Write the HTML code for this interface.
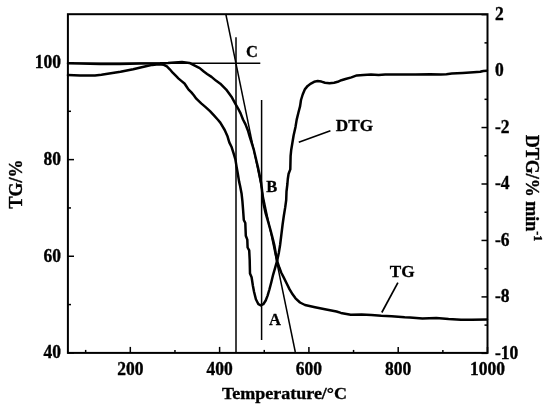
<!DOCTYPE html>
<html><head><meta charset="utf-8"><style>
html,body{margin:0;padding:0;background:#fff;}
body{width:550px;height:408px;overflow:hidden;}
svg{display:block;filter:grayscale(100%);}
</style></head><body>
<svg width="550" height="408" viewBox="0 0 550 408">
<rect width="550" height="408" fill="#fff"/>
<path d="M68.0,63.3 L80.0,63.6 L100.0,64.0 L120.0,64.0 L140.0,63.6 L160.0,63.3 L168.0,63.0 L174.7,62.6 L182.0,62.1 L189.4,62.9 L193.8,65.1 L199.7,68.1 L204.1,71.8 L207.1,74.0 L211.5,76.9 L215.9,80.6 L220.3,83.7 L226.2,89.6 L232.0,97.6 L235.7,104.3 L238.1,108.5 L240.6,113.4 L243.0,119.5 L245.5,124.4 L247.9,130.5 L249.7,136.6 L251.6,142.7 L253.8,149.7 L256.1,159.5 L257.9,167.0 L259.6,175.0 L261.0,182.2 L262.0,190.0 L262.8,199.4 L263.8,205.0 L265.4,212.3 L267.9,220.9 L270.3,229.4 L272.6,238.0 L274.3,245.0 L275.6,252.4 L277.1,260.9 L279.4,267.8 L281.3,272.7 L283.8,277.6 L286.7,283.5 L289.6,289.4 L292.6,294.3 L295.5,298.3 L300.0,302.5 L305.0,305.0 L315.0,307.2 L326.2,309.5 L336.5,311.5 L340.9,312.9 L350.7,314.7 L361.6,314.5 L371.5,315.1 L381.3,315.8 L391.6,316.3 L404.7,317.2 L410.0,317.4 L422.4,318.5 L436.3,317.9 L448.6,319.0 L461.0,319.7 L471.8,319.7 L487.0,319.4" fill="none" stroke="#000" stroke-width="2.5" stroke-linejoin="round" stroke-linecap="round"/>
<path d="M68.0,75.1 L80.0,75.6 L90.0,75.6 L95.0,75.4 L101.4,74.7 L107.7,73.8 L114.1,72.8 L120.5,71.8 L126.8,70.5 L133.2,69.3 L139.5,67.7 L145.9,66.2 L152.3,64.9 L158.6,64.3 L163.9,64.8 L166.9,66.4 L169.8,69.3 L172.7,72.7 L175.7,75.7 L178.6,78.6 L181.6,81.1 L184.5,83.5 L186.5,86.5 L188.4,89.4 L191.4,92.4 L193.8,95.3 L196.3,98.7 L201.2,103.4 L205.6,107.1 L210.0,111.2 L214.4,115.9 L218.1,120.0 L220.3,122.6 L224.7,130.0 L227.6,136.6 L229.3,142.4 L231.7,147.3 L233.6,153.4 L235.4,159.5 L236.6,166.9 L237.9,174.2 L239.1,181.6 L240.1,186.0 L241.6,193.8 L242.4,201.2 L243.1,210.0 L243.8,220.0 L245.3,223.0 L245.8,235.7 L247.3,239.6 L247.6,247.5 L249.2,250.4 L249.7,260.0 L249.8,265.0 L250.0,273.6 L251.6,277.3 L252.9,285.8 L254.1,292.0 L255.9,299.3 L258.4,304.2 L260.8,305.4 L263.3,304.2 L265.7,300.5 L267.6,295.6 L269.4,289.5 L271.3,282.2 L273.1,274.8 L274.9,268.7 L277.1,260.9 L278.9,252.4 L280.1,245.0 L281.4,234.4 L282.6,224.5 L283.8,216.0 L285.2,207.4 L286.2,200.0 L286.5,191.5 L287.4,184.0 L287.8,179.0 L288.6,173.8 L290.3,169.4 L290.6,156.2 L291.2,150.0 L292.4,142.8 L293.6,135.5 L295.5,126.9 L296.7,119.6 L298.5,112.2 L300.1,106.1 L301.0,100.0 L302.7,94.5 L305.0,89.1 L307.7,85.9 L310.9,83.6 L314.1,81.8 L317.7,81.1 L321.4,81.6 L325.0,82.7 L329.5,83.2 L334.1,82.7 L337.7,81.8 L341.4,80.2 L345.5,79.0 L351.4,77.4 L356.8,75.4 L363.4,75.0 L371.0,74.6 L378.6,75.0 L385.2,74.6 L395.0,74.4 L415.5,74.5 L430.0,74.2 L440.9,74.4 L446.4,74.2 L451.8,73.6 L462.7,72.9 L473.6,72.3 L480.2,71.8 L483.4,71.0 L487.0,70.8" fill="none" stroke="#000" stroke-width="2.5" stroke-linejoin="round" stroke-linecap="round"/>
<line x1="68" y1="63.3" x2="260.3" y2="63.3" stroke="#000" stroke-width="1.5" fill="none"/>
<line x1="236" y1="37.2" x2="236" y2="352.9" stroke="#000" stroke-width="1.5" fill="none"/>
<line x1="261.6" y1="100" x2="261.6" y2="340" stroke="#000" stroke-width="1.5" fill="none"/>
<line x1="225.8" y1="14" x2="295.3" y2="352" stroke="#000" stroke-width="1.5" fill="none"/>
<line x1="298.8" y1="142.3" x2="330.4" y2="130.8" stroke="#000" stroke-width="1.7"/>
<line x1="381.8" y1="312.5" x2="397.9" y2="282.7" stroke="#000" stroke-width="1.7"/>
<rect x="67.9" y="14.2" width="419.6" height="338.7" fill="none" stroke="#000" stroke-width="2"/>
<line x1="85.66" y1="352.9" x2="85.66" y2="349.9" stroke="#000" stroke-width="1.5"/>
<line x1="130.31" y1="352.9" x2="130.31" y2="346.9" stroke="#000" stroke-width="1.5"/>
<line x1="174.96" y1="352.9" x2="174.96" y2="349.9" stroke="#000" stroke-width="1.5"/>
<line x1="219.61" y1="352.9" x2="219.61" y2="346.9" stroke="#000" stroke-width="1.5"/>
<line x1="264.26" y1="352.9" x2="264.26" y2="349.9" stroke="#000" stroke-width="1.5"/>
<line x1="308.91" y1="352.9" x2="308.91" y2="346.9" stroke="#000" stroke-width="1.5"/>
<line x1="353.56" y1="352.9" x2="353.56" y2="349.9" stroke="#000" stroke-width="1.5"/>
<line x1="398.21" y1="352.9" x2="398.21" y2="346.9" stroke="#000" stroke-width="1.5"/>
<line x1="442.86" y1="352.9" x2="442.86" y2="349.9" stroke="#000" stroke-width="1.5"/>
<line x1="487.51" y1="352.9" x2="487.51" y2="346.9" stroke="#000" stroke-width="1.5"/>
<line x1="68" y1="352.90" x2="74" y2="352.90" stroke="#000" stroke-width="1.5"/>
<line x1="68" y1="304.58" x2="71" y2="304.58" stroke="#000" stroke-width="1.5"/>
<line x1="68" y1="256.26" x2="74" y2="256.26" stroke="#000" stroke-width="1.5"/>
<line x1="68" y1="207.94" x2="71" y2="207.94" stroke="#000" stroke-width="1.5"/>
<line x1="68" y1="159.62" x2="74" y2="159.62" stroke="#000" stroke-width="1.5"/>
<line x1="68" y1="111.30" x2="71" y2="111.30" stroke="#000" stroke-width="1.5"/>
<line x1="68" y1="62.98" x2="74" y2="62.98" stroke="#000" stroke-width="1.5"/>
<line x1="487.5" y1="353.35" x2="481.5" y2="353.35" stroke="#000" stroke-width="1.5"/>
<line x1="487.5" y1="325.12" x2="484.5" y2="325.12" stroke="#000" stroke-width="1.5"/>
<line x1="487.5" y1="296.90" x2="481.5" y2="296.90" stroke="#000" stroke-width="1.5"/>
<line x1="487.5" y1="268.68" x2="484.5" y2="268.68" stroke="#000" stroke-width="1.5"/>
<line x1="487.5" y1="240.45" x2="481.5" y2="240.45" stroke="#000" stroke-width="1.5"/>
<line x1="487.5" y1="212.22" x2="484.5" y2="212.22" stroke="#000" stroke-width="1.5"/>
<line x1="487.5" y1="184.00" x2="481.5" y2="184.00" stroke="#000" stroke-width="1.5"/>
<line x1="487.5" y1="155.78" x2="484.5" y2="155.78" stroke="#000" stroke-width="1.5"/>
<line x1="487.5" y1="127.55" x2="481.5" y2="127.55" stroke="#000" stroke-width="1.5"/>
<line x1="487.5" y1="99.32" x2="484.5" y2="99.32" stroke="#000" stroke-width="1.5"/>
<line x1="487.5" y1="71.10" x2="481.5" y2="71.10" stroke="#000" stroke-width="1.5"/>
<line x1="487.5" y1="42.87" x2="484.5" y2="42.87" stroke="#000" stroke-width="1.5"/>
<line x1="487.5" y1="14.65" x2="481.5" y2="14.65" stroke="#000" stroke-width="1.5"/>
<text transform="translate(130.31,375.00) scale(1,1.04)" text-anchor="middle" font-family="Liberation Serif" font-weight="bold" font-size="17.5" stroke="#000" stroke-width="0.35">200</text>
<text transform="translate(219.61,375.00) scale(1,1.04)" text-anchor="middle" font-family="Liberation Serif" font-weight="bold" font-size="17.5" stroke="#000" stroke-width="0.35">400</text>
<text transform="translate(308.91,375.00) scale(1,1.04)" text-anchor="middle" font-family="Liberation Serif" font-weight="bold" font-size="17.5" stroke="#000" stroke-width="0.35">600</text>
<text transform="translate(398.21,375.00) scale(1,1.04)" text-anchor="middle" font-family="Liberation Serif" font-weight="bold" font-size="17.5" stroke="#000" stroke-width="0.35">800</text>
<text transform="translate(487.51,375.00) scale(1,1.04)" text-anchor="middle" font-family="Liberation Serif" font-weight="bold" font-size="17.5" stroke="#000" stroke-width="0.35">1000</text>
<text transform="translate(61.00,358.30) scale(1,1.04)" text-anchor="end" font-family="Liberation Serif" font-weight="bold" font-size="17.5" stroke="#000" stroke-width="0.35">40</text>
<text transform="translate(61.00,261.66) scale(1,1.04)" text-anchor="end" font-family="Liberation Serif" font-weight="bold" font-size="17.5" stroke="#000" stroke-width="0.35">60</text>
<text transform="translate(61.00,165.02) scale(1,1.04)" text-anchor="end" font-family="Liberation Serif" font-weight="bold" font-size="17.5" stroke="#000" stroke-width="0.35">80</text>
<text transform="translate(61.00,68.38) scale(1,1.04)" text-anchor="end" font-family="Liberation Serif" font-weight="bold" font-size="17.5" stroke="#000" stroke-width="0.35">100</text>
<text transform="translate(495.00,358.55) scale(1,1.04)" font-family="Liberation Serif" font-weight="bold" font-size="17.5" stroke="#000" stroke-width="0.35">-10</text>
<text transform="translate(495.00,302.10) scale(1,1.04)" font-family="Liberation Serif" font-weight="bold" font-size="17.5" stroke="#000" stroke-width="0.35">-8</text>
<text transform="translate(495.00,245.65) scale(1,1.04)" font-family="Liberation Serif" font-weight="bold" font-size="17.5" stroke="#000" stroke-width="0.35">-6</text>
<text transform="translate(495.00,189.20) scale(1,1.04)" font-family="Liberation Serif" font-weight="bold" font-size="17.5" stroke="#000" stroke-width="0.35">-4</text>
<text transform="translate(495.00,132.75) scale(1,1.04)" font-family="Liberation Serif" font-weight="bold" font-size="17.5" stroke="#000" stroke-width="0.35">-2</text>
<text transform="translate(495.00,76.30) scale(1,1.04)" font-family="Liberation Serif" font-weight="bold" font-size="17.5" stroke="#000" stroke-width="0.35">0</text>
<text transform="translate(495.00,19.85) scale(1,1.04)" font-family="Liberation Serif" font-weight="bold" font-size="17.5" stroke="#000" stroke-width="0.35">2</text>
<text transform="translate(284.5,399) scale(1,0.95)" text-anchor="middle" font-family="Liberation Serif" font-weight="bold" font-size="18" stroke="#000" stroke-width="0.35">Temperature/°C</text>
<text transform="translate(22.3,183.9) rotate(-90)" text-anchor="middle" font-family="Liberation Serif" font-weight="bold" font-size="18" stroke="#000" stroke-width="0.35">TG/%</text>
<text transform="translate(526,188) rotate(90)" text-anchor="middle" font-family="Liberation Serif" font-weight="bold" font-size="18" stroke="#000" stroke-width="0.35">DTG/% min<tspan font-size="12" dy="-8">-1</tspan></text>
<text x="245.9" y="56.6" font-family="Liberation Serif" font-weight="bold" font-size="16.5" stroke="#000" stroke-width="0.3">C</text>
<text x="266.3" y="192.3" font-family="Liberation Serif" font-weight="bold" font-size="16.5" stroke="#000" stroke-width="0.3">B</text>
<text x="268.9" y="324.6" font-family="Liberation Serif" font-weight="bold" font-size="16.5" stroke="#000" stroke-width="0.3">A</text>
<text x="335.8" y="131.4" font-family="Liberation Serif" font-weight="bold" font-size="17.2" stroke="#000" stroke-width="0.3">DTG</text>
<text x="389.7" y="277.3" font-family="Liberation Serif" font-weight="bold" font-size="17.2" stroke="#000" stroke-width="0.3">TG</text>
</svg>
</body></html>
